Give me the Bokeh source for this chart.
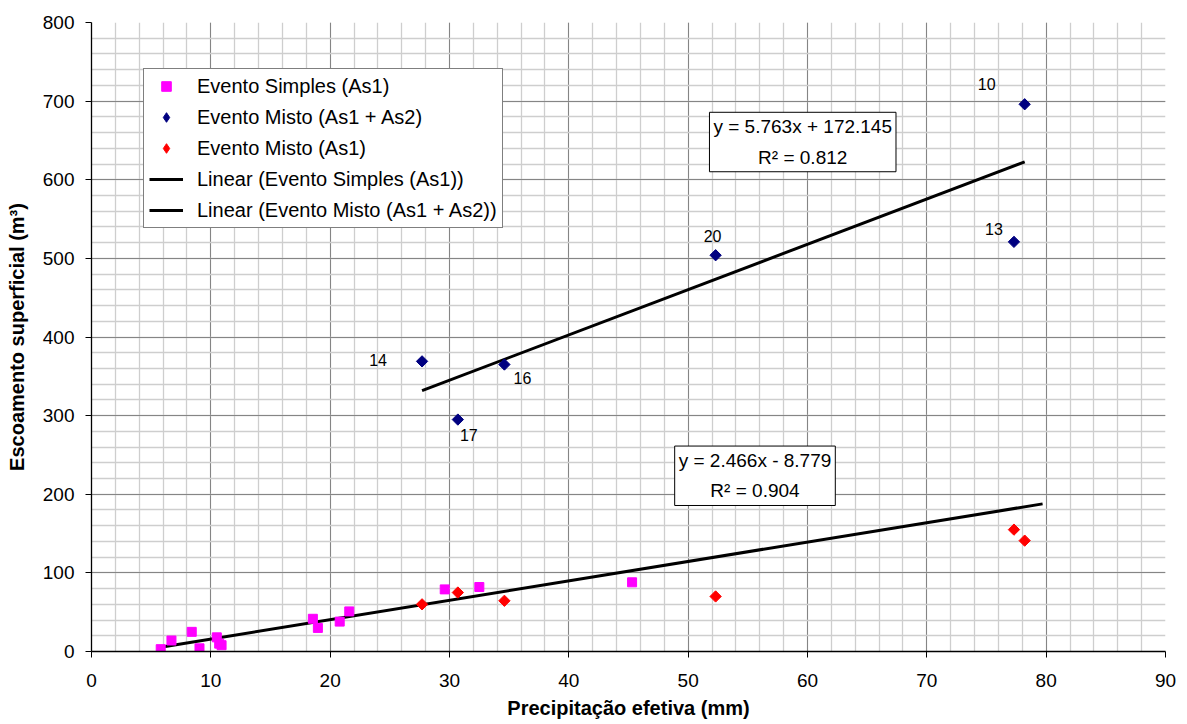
import math
from bokeh.plotting import figure
from bokeh.models import (Range1d, SingleIntervalTicker, Legend, LegendItem, Label,
                          ColumnDataSource)
from bokeh.embed import file_html
from bokeh.resources import INLINE
from bokeh.core.properties import value

# ---------------- data ----------------
simples_x = [5.8, 6.7, 8.4, 9.05, 10.5, 10.7, 10.9, 18.55, 18.97, 20.8, 21.6, 29.6, 32.5, 45.3]
simples_y = [3, 14, 25, 4, 18, 10, 8, 41.6, 30, 38, 51, 79, 82, 88]

misto_x = [27.7, 30.7, 34.6, 52.3, 77.3, 78.2]
misto_total_y = [369, 295, 365, 504, 521, 696]   # Evento Misto (As1 + As2)
misto_as1_y = [60, 75, 64.5, 70, 155, 141]       # Evento Misto (As1)
misto_ids = ["14", "17", "16", "20", "13", "10"]

# trendline fits: slope, intercept, R²
simples_fit = (2.466, -8.779, 0.904)
misto_fit = (5.763, 172.145, 0.812)
simples_forecast = 34.4  # forward forecast of the simple-event trendline

x_ticks_interval = 10
y_ticks_interval = 100

# ---------------- styles ----------------
FONT = "Liberation Sans"
id_dx = [-44, 11, 18, -3, -20, -38]
id_dy = [-1, 15, 13, -19, -13, -20]

p = figure(frame_width=1074, frame_height=629,
           min_border_left=91, min_border_right=20, min_border_top=22, min_border_bottom=73,
           x_range=Range1d(0, 90), y_range=Range1d(0, 800),
           output_backend="svg", toolbar_location=None)
p.outline_line_color = None
p.background_fill_color = "white"

xt = SingleIntervalTicker(interval=x_ticks_interval, num_minor_ticks=5)
yt = SingleIntervalTicker(interval=y_ticks_interval, num_minor_ticks=5)
p.xaxis.ticker = SingleIntervalTicker(interval=x_ticks_interval)
p.yaxis.ticker = SingleIntervalTicker(interval=y_ticks_interval)
p.xgrid.ticker = xt
p.ygrid.ticker = yt
for g in (p.xgrid, p.ygrid):
    g.grid_line_color = "#858585"
    g.grid_line_width = 1
    g.minor_grid_line_color = "#cecece"
    g.minor_grid_line_width = 1.3

for ax in (p.xaxis, p.yaxis):
    ax.axis_line_color = "black"
    ax.axis_line_width = 1.3
    ax.major_tick_line_color = "black"
    ax.major_tick_in = 0
    ax.major_tick_out = 6
    ax.minor_tick_line_color = None
    ax.major_label_text_font = FONT
    ax.major_label_text_font_size = "19px"
    ax.major_label_text_color = "black"
    ax.axis_label_text_font = FONT
    ax.axis_label_text_font_size = "20px"
    ax.axis_label_text_font_style = "bold"
    ax.axis_label_text_color = "black"

p.xaxis.axis_label = "Precipitação efetiva (mm)"
p.yaxis.axis_label = "Escoamento superficial (m³)"
p.xaxis.major_label_standoff = 16
p.xaxis.axis_label_standoff = 7
p.yaxis.major_label_standoff = 11
p.yaxis.axis_label_standoff = 12

# ---------------- trendlines ----------------
def trend(fit, x0, x1):
    a, b, _ = fit
    return [x0, x1], [a * x0 + b, a * x1 + b]

sx, sy = trend(simples_fit, min(simples_x), max(simples_x) + simples_forecast)
mx, my = trend(misto_fit, min(misto_x), max(misto_x))

r_lin_s = p.line(sx, sy, line_color="black", line_width=3)
r_lin_m = p.line(mx, my, line_color="black", line_width=3)

# ---------------- scatter ----------------
src_s = ColumnDataSource(dict(x=simples_x, y=simples_y))
src_m = ColumnDataSource(dict(x=misto_x, y=misto_total_y))
src_r = ColumnDataSource(dict(x=misto_x, y=misto_as1_y))

# small diamonds underneath the real markers: they only provide the legend symbol
lg_m = p.scatter("x", "y", source=src_m, marker="diamond", size=4,
                 fill_color="#000080", line_color="#000080")
lg_r = p.scatter("x", "y", source=src_r, marker="diamond", size=4,
                 fill_color="#FF0000", line_color="#FF0000")

r_s = p.scatter("x", "y", source=src_s, marker="square", size=9,
                fill_color="#FF00FF", line_color="#FF00FF")
r_m = p.scatter("x", "y", source=src_m, marker="square", size=8, angle=math.pi / 4,
                fill_color="#000080", line_color="#000080")
r_r = p.scatter("x", "y", source=src_r, marker="square", size=8, angle=math.pi / 4,
                fill_color="#FF0000", line_color="#FF0000")

src_ids = ColumnDataSource(dict(x=misto_x, y=misto_total_y, t=misto_ids, dx=id_dx, dy=id_dy))
p.text(x="x", y="y", text="t", x_offset="dx", y_offset="dy", source=src_ids,
       text_align="center", text_baseline="middle", text_font=value(FONT),
       text_font_size="16px", text_color="black")

# ---------------- equation boxes ----------------
def eq_text(fit):
    a, b, r2 = fit
    sign = "+" if b >= 0 else "-"
    return f"y = {a:.3f}x {sign} {abs(b):.3f}\nR² = {r2:.3f}"

for fit, (lx, ly) in ((misto_fit, (59.6, 648)), (simples_fit, (55.6, 223.5))):
    p.add_layout(Label(x=lx, y=ly, text=eq_text(fit), text_align="center",
                       text_baseline="middle", text_font=FONT, text_font_size="19px",
                       text_color="black", text_line_height=1.45,
                       border_line_color="black", border_line_width=1,
                       background_fill_color="white", padding=4))

# ---------------- legend ----------------
legend = Legend(items=[
    LegendItem(label="Evento Simples (As1)", renderers=[r_s]),
    LegendItem(label="Evento Misto (As1 + As2)", renderers=[lg_m]),
    LegendItem(label="Evento Misto (As1)", renderers=[lg_r]),
    LegendItem(label="Linear (Evento Simples (As1))", renderers=[r_lin_s]),
    LegendItem(label="Linear (Evento Misto (As1 + As2))", renderers=[r_lin_m]),
], location=(52, 423), margin=0, padding=5, spacing=7,
    glyph_width=34, glyph_height=24, label_height=24, label_standoff=14,
    label_text_font=FONT, label_text_font_size="20px", label_text_color="black",
    border_line_color="black", border_line_width=1,
    background_fill_color="white", background_fill_alpha=1)
p.add_layout(legend)

open("out.html", "w").write(file_html(p, INLINE))
